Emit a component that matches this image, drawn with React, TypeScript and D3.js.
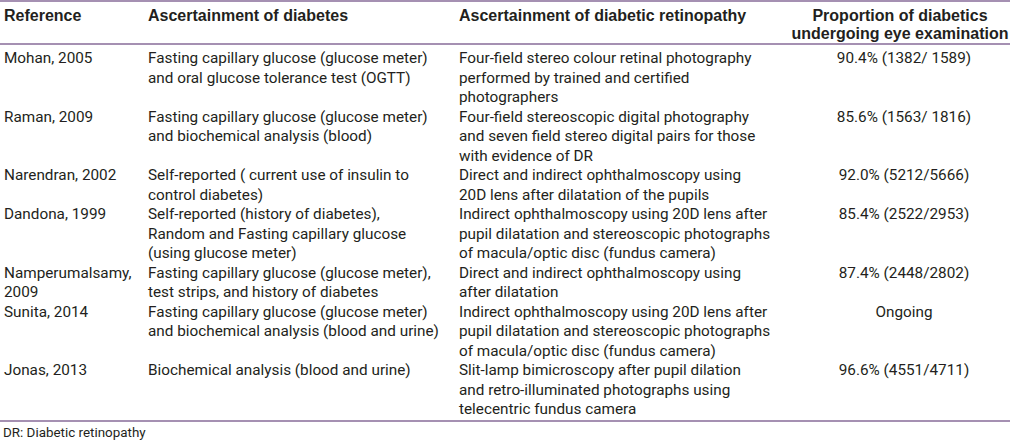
import * as d3 from "d3";
import { useEffect, useRef } from "react";

const headers = [
  ["Reference"],
  ["Ascertainment of diabetes"],
  ["Ascertainment of diabetic retinopathy"],
  ["Proportion of diabetics", "undergoing eye examination"],
];

const references = [
  ["Mohan, 2005"],
  ["Raman, 2009"],
  ["Narendran, 2002"],
  ["Dandona, 1999"],
  ["Namperumalsamy,", "2009"],
  ["Sunita, 2014"],
  ["Jonas, 2013"],
];

const diabetesMethods = [
  ["Fasting capillary glucose (glucose meter)", "and oral glucose tolerance test (OGTT)"],
  ["Fasting capillary glucose (glucose meter)", "and biochemical analysis (blood)"],
  ["Self-reported ( current use of insulin to", "control diabetes)"],
  ["Self-reported (history of diabetes),", "Random and Fasting capillary glucose", "(using glucose meter)"],
  ["Fasting capillary glucose (glucose meter),", "test strips, and history of diabetes"],
  ["Fasting capillary glucose (glucose meter)", "and biochemical analysis (blood and urine)"],
  ["Biochemical analysis (blood and urine)"],
];

const retinopathyMethods = [
  ["Four-field stereo colour retinal photography", "performed by trained and certified", "photographers"],
  ["Four-field stereoscopic digital photography", "and seven field stereo digital pairs for those", "with evidence of DR"],
  ["Direct and indirect ophthalmoscopy using", "20D lens after dilatation of the pupils"],
  ["Indirect ophthalmoscopy using 20D lens after", "pupil dilatation and stereoscopic photographs", "of macula/optic disc (fundus camera)"],
  ["Direct and indirect ophthalmoscopy using", "after dilatation"],
  ["Indirect ophthalmoscopy using 20D lens after", "pupil dilatation and stereoscopic photographs", "of macula/optic disc (fundus camera)"],
  ["Slit-lamp bimicroscopy after pupil dilation", "and retro-illuminated photographs using", "telecentric fundus camera"],
];

const proportions = [
  ["90.4% (1382/ 1589)"],
  ["85.6% (1563/ 1816)"],
  ["92.0% (5212/5666)"],
  ["85.4% (2522/2953)"],
  ["87.4% (2448/2802)"],
  ["Ongoing"],
  ["96.6% (4551/4711)"],
];

const footnote = "DR: Diabetic retinopathy";

const App = () => {
  const svgRef = useRef<SVGSVGElement>(null);

  useEffect(() => {
    const w = 1010;
    const h = 440;
    const lineColor = "#876b98";
    const textColor = "#231f20";
    const bodyFont = "Roboto, sans-serif";
    const headFont = "'Liberation Sans', Arial, sans-serif";

    const svg = d3.select(svgRef.current)
      .attr("width", w)
      .attr("height", h)
      .style("background", "#fff");
    svg.selectAll("*").remove();

    const columns = [references, diabetesMethods, retinopathyMethods, proportions];
    const colX = [4, 148, 459, 904];
    const headX = [4, 148, 459, 900];
    const colAnchor = ["start", "start", "start", "middle"];

    // line index -> y (text centre)
    const y = d3.scaleLinear().domain([0, 1]).range([58, 77.5]);
    const yHead = d3.scaleLinear().domain([0, 1]).range([15, 33]);

    // start line of each row = running sum of row heights
    const rowLines = references.map((_, i) => d3.max(columns, (c) => c[i].length) as number);
    const rowStart = rowLines.map((_, i) => d3.sum(rowLines.slice(0, i)));

    // rules
    [1, 44, 421].forEach((ly) => {
      svg.append("line")
        .attr("x1", 0).attr("x2", w)
        .attr("y1", ly).attr("y2", ly)
        .attr("stroke", lineColor)
        .attr("stroke-width", 1.5);
    });

    // header
    headers.forEach((cell, c) => {
      cell.forEach((txt, k) => {
        svg.append("text")
          .attr("x", headX[c])
          .attr("y", yHead(k))
          .attr("dy", "0.35em")
          .attr("text-anchor", colAnchor[c])
          .attr("font-family", headFont)
          .attr("font-weight", "bold")
          .attr("font-size", 16)
          .attr("fill", textColor)
          .text(txt);
      });
    });

    // body
    columns.forEach((col, c) => {
      col.forEach((cell, r) => {
        cell.forEach((txt, k) => {
          svg.append("text")
            .attr("x", colX[c])
            .attr("y", y(rowStart[r] + k))
            .attr("dy", "0.35em")
            .attr("text-anchor", colAnchor[c])
            .attr("font-family", bodyFont)
            .attr("font-size", 15.3)
            .attr("fill", textColor)
            .text(txt);
        });
      });
    });

    svg.append("text")
      .attr("x", 3)
      .attr("y", 432)
      .attr("dy", "0.35em")
      .attr("font-family", bodyFont)
      .attr("font-size", 13.4)
      .attr("fill", textColor)
      .text(footnote);
  }, []);

  return (
    <svg ref={svgRef} style={{ position: "fixed", top: 0, left: 0, display: "block" }}></svg>
  );
};

export default App;
